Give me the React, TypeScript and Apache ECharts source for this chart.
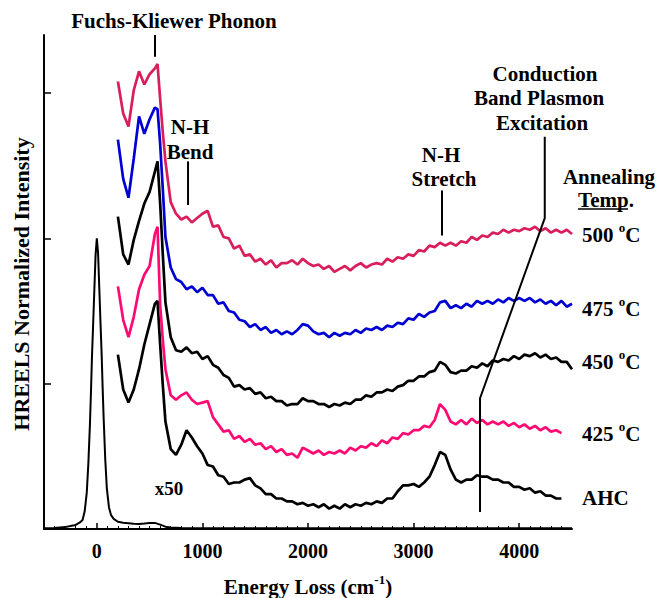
import React, { useEffect, useRef } from "react";
import * as echarts from "echarts";

// Energy loss grid (cm^-1) for the x50 magnified spectra
const energy = [200, 250, 300, 350, 400, 450, 500, 550, 575, 600, 625, 650, 700, 750, 800, 850, 900, 950, 1000, 1050, 1100, 1150, 1200, 1250, 1300, 1350, 1400, 1450, 1500, 1550, 1600, 1650, 1700, 1750, 1800, 1850, 1900, 1950, 2000, 2050, 2100, 2150, 2200, 2250, 2300, 2350, 2400, 2450, 2500, 2550, 2600, 2650, 2700, 2750, 2800, 2850, 2900, 2950, 3000, 3050, 3100, 3150, 3200, 3250, 3300, 3350, 3400, 3450, 3500, 3550, 3600, 3650, 3700, 3750, 3800, 3850, 3900, 3950, 4000, 4050, 4100, 4150, 4200, 4250, 4300, 4350, 4400, 4450, 4500];

const anneal500 = [3.08, 2.86, 2.77, 3.02, 3.15, 3.06, 3.13, 3.17, 3.20, 2.96, 2.73, 2.53, 2.25, 2.17, 2.13, 2.15, 2.11, 2.14, 2.17, 2.19, 2.08, 2.09, 2.01, 2.00, 1.93, 1.95, 1.88, 1.89, 1.84, 1.86, 1.82, 1.85, 1.80, 1.83, 1.83, 1.85, 1.82, 1.86, 1.83, 1.81, 1.82, 1.79, 1.81, 1.77, 1.79, 1.81, 1.78, 1.81, 1.83, 1.80, 1.82, 1.83, 1.82, 1.86, 1.84, 1.87, 1.86, 1.89, 1.88, 1.92, 1.91, 1.95, 1.94, 1.97, 1.95, 1.97, 1.95, 1.98, 1.97, 2.01, 1.99, 2.02, 2.01, 2.04, 2.03, 2.06, 2.04, 2.06, 2.05, 2.07, 2.06, 2.08, 2.05, 2.07, 2.04, 2.06, 2.04, 2.06, 2.03];

const anneal475 = [2.68, 2.41, 2.28, 2.55, 2.84, 2.72, 2.82, 2.90, 2.89, 2.65, 2.34, 2.01, 1.80, 1.72, 1.70, 1.65, 1.67, 1.63, 1.66, 1.61, 1.61, 1.55, 1.56, 1.50, 1.49, 1.44, 1.43, 1.39, 1.41, 1.37, 1.39, 1.35, 1.37, 1.34, 1.36, 1.34, 1.37, 1.41, 1.40, 1.36, 1.34, 1.35, 1.32, 1.35, 1.33, 1.35, 1.34, 1.37, 1.35, 1.38, 1.37, 1.39, 1.37, 1.40, 1.39, 1.42, 1.41, 1.45, 1.44, 1.48, 1.46, 1.49, 1.50, 1.56, 1.57, 1.52, 1.54, 1.52, 1.55, 1.53, 1.57, 1.55, 1.57, 1.55, 1.58, 1.56, 1.59, 1.57, 1.59, 1.57, 1.59, 1.56, 1.58, 1.55, 1.57, 1.54, 1.57, 1.53, 1.55];

const anneal450 = [2.15, 1.89, 1.82, 1.99, 2.12, 2.24, 2.32, 2.46, 2.53, 2.24, 1.89, 1.56, 1.32, 1.23, 1.22, 1.25, 1.21, 1.22, 1.17, 1.19, 1.13, 1.11, 1.06, 1.04, 0.98, 0.99, 0.96, 0.97, 0.93, 0.94, 0.90, 0.91, 0.88, 0.88, 0.85, 0.86, 0.86, 0.90, 0.88, 0.88, 0.86, 0.86, 0.84, 0.86, 0.85, 0.87, 0.86, 0.89, 0.89, 0.92, 0.91, 0.94, 0.94, 0.96, 0.95, 0.98, 0.99, 1.02, 1.02, 1.05, 1.05, 1.08, 1.09, 1.15, 1.13, 1.08, 1.07, 1.09, 1.09, 1.12, 1.11, 1.14, 1.12, 1.16, 1.15, 1.17, 1.16, 1.19, 1.17, 1.20, 1.19, 1.21, 1.18, 1.20, 1.17, 1.18, 1.15, 1.15, 1.10];

const anneal425 = [1.67, 1.44, 1.32, 1.46, 1.65, 1.75, 1.81, 2.03, 2.08, 1.54, 1.30, 1.10, 0.92, 0.89, 0.92, 0.94, 0.89, 0.86, 0.87, 0.88, 0.77, 0.72, 0.67, 0.68, 0.62, 0.64, 0.60, 0.62, 0.58, 0.59, 0.55, 0.57, 0.53, 0.55, 0.51, 0.52, 0.49, 0.56, 0.54, 0.52, 0.54, 0.51, 0.53, 0.52, 0.54, 0.52, 0.56, 0.54, 0.57, 0.56, 0.59, 0.57, 0.61, 0.59, 0.63, 0.62, 0.66, 0.65, 0.68, 0.68, 0.71, 0.70, 0.75, 0.86, 0.82, 0.74, 0.72, 0.75, 0.72, 0.76, 0.73, 0.75, 0.72, 0.74, 0.72, 0.74, 0.71, 0.73, 0.70, 0.72, 0.69, 0.71, 0.68, 0.70, 0.67, 0.68, 0.66, null, null];

const ahc = [1.20, 0.96, 0.87, 0.96, 1.10, 1.27, 1.41, 1.55, 1.57, 1.27, 0.99, 0.74, 0.55, 0.51, 0.58, 0.68, 0.63, 0.57, 0.52, 0.44, 0.43, 0.37, 0.36, 0.31, 0.32, 0.32, 0.34, 0.35, 0.30, 0.28, 0.24, 0.24, 0.21, 0.21, 0.19, 0.19, 0.17, 0.18, 0.16, 0.17, 0.15, 0.17, 0.14, 0.16, 0.14, 0.17, 0.15, 0.17, 0.16, 0.18, 0.17, 0.19, 0.18, 0.21, 0.21, 0.26, 0.30, 0.30, 0.31, 0.29, 0.32, 0.36, 0.44, 0.53, 0.51, 0.41, 0.34, 0.32, 0.34, 0.34, 0.37, 0.36, 0.36, 0.34, 0.34, 0.32, 0.32, 0.29, 0.29, 0.27, 0.28, 0.25, 0.26, 0.23, 0.23, 0.21, 0.21, null, null];

// Unmagnified AHC spectrum with the elastic peak
const elasticEnergy = [-500, -400, -300, -250, -200, -160, -135, -115, -95, -80, -65, -55, -46, -35, -24, -12, 0, 12, 24, 35, 46, 55, 65, 80, 95, 115, 135, 160, 200, 250, 300, 350, 400, 450, 500, 550, 600, 650, 700, 800, 1000, 1500, 2000, 2500, 3000, 3500, 4000, 4500];
const elasticIntensity = [0.005, 0.007, 0.013, 0.02, 0.028, 0.045, 0.062, 0.12, 0.25, 0.45, 0.72, 0.95, 1.18, 1.40, 1.63, 1.88, 2.00, 1.90, 1.65, 1.42, 1.20, 0.98, 0.76, 0.48, 0.28, 0.15, 0.095, 0.07, 0.05, 0.043, 0.04, 0.036, 0.035, 0.038, 0.042, 0.042, 0.03, 0.016, 0.01, 0.007, 0.006, 0.006, 0.005, 0.005, 0.005, 0.005, 0.005, 0.005];

const xTickValues = [0, 1000, 2000, 3000, 4000];
const yTickValues = [1, 2, 3];

// Annotation marker lines (data coordinates)
const fkMarker = [[551, 3.4], [551, 3.25]];
const bendMarker = [[864, 2.53], [864, 2.23]];
const stretchMarker = [[3269, 2.33], [3269, 2.02]];
const plasmonMarker = [[4242, 2.7], [4242, 2.14], [3629, 0.9], [3629, 0.117]];

const tempNames = ["500", "475", "450", "425"];
const FONT = '"Liberation Serif", "Times New Roman", serif';

const spectra = [
  { name: "AHC", values: ahc, color: "#000000" },
  { name: "425", values: anneal425, color: "#FF0A73" },
  { name: "450", values: anneal450, color: "#000000" },
  { name: "475", values: anneal475, color: "#0000D2" },
  { name: "500", values: anneal500, color: "#D91E5B" },
];

export default function App() {
  const ref = useRef<HTMLDivElement>(null);

  useEffect(() => {
    if (!ref.current) return;
    const chart = echarts.init(ref.current, undefined, { renderer: "svg" });

    const txt = (text: string, x: number, y: number, fontSize = 21, align = "center") => ({
      type: "text",
      x,
      y,
      silent: true,
      style: {
        text,
        x: 0,
        y: 0,
        fontFamily: FONT,
        fontWeight: "bold",
        fontSize,
        fill: "#000",
        align,
        verticalAlign: "middle",
      },
    });

    const richBase = { fontFamily: FONT, fontWeight: "bold", fill: "#000" };
    const rich = {
      n: { ...richBase, fontSize: 21, lineHeight: 25, verticalAlign: "bottom" },
      s: { ...richBase, fontSize: 13, lineHeight: 13, verticalAlign: "top" },
    };
    const richTxt = (text: string, x: number, y: number, align = "left") => ({
      type: "text",
      x,
      y,
      silent: true,
      style: { text, rich, align, verticalAlign: "middle" },
    });

    const tempY = [233, 307, 360, 432];

    const markerSeries = [fkMarker, bendMarker, stretchMarker, plasmonMarker].map((d) => ({
      type: "line",
      data: d,
      showSymbol: false,
      silent: true,
      lineStyle: { color: "#000", width: 2 },
      z: 5,
    }));

    const option: any = {
      animation: false,
      backgroundColor: "#ffffff",
      grid: { left: 44, right: 86, top: 35, bottom: 69, containLabel: false, outerBoundsMode: "none" },
      xAxis: {
        type: "value",
        min: -500,
        max: 4500,
        splitNumber: 5,
        axisLine: { onZero: false, lineStyle: { color: "#000", width: 2 } },
        axisTick: { show: true, inside: true, length: 6, customValues: xTickValues, lineStyle: { color: "#000", width: 1.5 } },
        minorTick: { show: true, splitNumber: 10, length: 3, lineStyle: { color: "#000", width: 1 } },
        axisLabel: {
          customValues: xTickValues,
          formatter: (v: number) => String(v),
          fontFamily: FONT,
          fontWeight: "bold",
          fontSize: 20,
          color: "#000",
          margin: 12,
        },
        splitLine: { show: false },
        minorSplitLine: { show: false },
      },
      yAxis: {
        type: "value",
        min: 0,
        max: 3.4,
        interval: 1,
        axisLine: { show: true, onZero: false, lineStyle: { color: "#000", width: 2 } },
        axisTick: { show: true, inside: true, length: 7, customValues: yTickValues, lineStyle: { color: "#000", width: 1.5 } },
        axisLabel: { show: false },
        splitLine: { show: false },
      },
      series: [
        ...spectra.map((s) => ({
          type: "line",
          name: s.name,
          data: energy.map((e, i) => [e, s.values[i]]),
          showSymbol: false,
          connectNulls: false,
          lineStyle: { color: s.color, width: 2.7 },
          itemStyle: { color: s.color },
        })),
        {
          type: "line",
          name: "elastic",
          data: elasticEnergy.map((e, i) => [e, elasticIntensity[i]]),
          showSymbol: false,
          lineStyle: { color: "#000", width: 2 },
        },
        ...markerSeries,
      ],
      graphic: [
        txt("Fuchs-Kliewer Phonon", 174, 21),
        txt("N-H", 190, 127),
        txt("Bend", 190, 152),
        txt("N-H", 441, 155),
        txt("Stretch", 444, 179),
        txt("Conduction", 545, 74),
        txt("Band Plasmon", 539, 98),
        txt("Excitation", 542, 123),
        txt("Annealing", 609, 177),
        txt("Temp.", 606, 200),
        {
          type: "line",
          silent: true,
          shape: { x1: 578, y1: 209, x2: 628, y2: 209 },
          style: { stroke: "#000", lineWidth: 1.5 },
        },
        ...tempNames.map((t, i) => richTxt(`{n|${t} }{s|o}{n|C}`, 582, tempY[i])),
        txt("AHC", 582, 498, 21, "left"),
        txt("x50", 169, 488, 19),
        richTxt("{n|Energy Loss (cm}{s|-1}{n|)}", 308, 585, "center"),
        {
          type: "text",
          x: 21,
          y: 284,
          rotation: Math.PI / 2,
          silent: true,
          style: {
            text: "HREELS Normalized Intensity",
            fontFamily: FONT,
            fontWeight: "bold",
            fontSize: 22,
            fill: "#000",
            align: "center",
            verticalAlign: "middle",
          },
        },
      ],
    };

    chart.setOption(option);
    return () => chart.dispose();
  }, []);

  return (
    <div
      ref={ref}
      style={{ position: "fixed", left: 0, top: 0, width: 658, height: 598, background: "#fff" }}
    />
  );
}
